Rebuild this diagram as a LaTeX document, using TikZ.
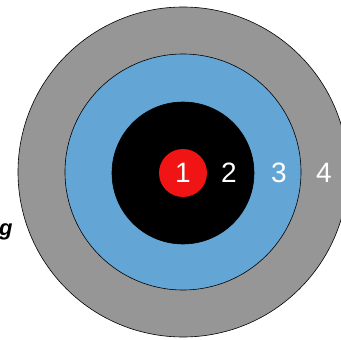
\documentclass[tikz,border=0pt]{standalone}
\usepackage{fontspec}
\setmainfont{Liberation Sans}
\usetikzlibrary{positioning}
\definecolor{ringgray}{RGB}{150,150,150}
\definecolor{ringblue}{RGB}{99,166,214}
\definecolor{ringred}{RGB}{240,20,20}

\begin{document}
\begin{tikzpicture}[
    x=1pt, y=-1pt,
    ring/.style  = {draw, circle, line width=0.6pt, inner sep=0pt},
    num/.style   = {text=white, font=\fontsize{28}{28}\selectfont, inner sep=0pt},
]
\useasboundingbox (0,0) rectangle (341,340);

% --- rings, outermost first ---
\node[ring, fill=ringgray, minimum size=330pt] (r4) at (183,172) {};
\node[ring, fill=ringblue, minimum size=236pt] (r3) at (183,172) {};
\node[ring, fill=black,    minimum size=142pt] (r2) at (183,173) {};
\node[ring, draw=none, fill=ringred, minimum size=48pt] (r1) at (183,173) {};

% --- ring numbers ---
\node[num] (n1) at (r1) {1};
\node[num] (n2) at (229,173) {2};
\node[num] (n3) at (279,173) {3};
\node[num] (n4) at (324,173) {4};

% --- clipped label on the left ---
\node[font=\fontsize{22}{22}\selectfont\bfseries\itshape, anchor=base west,
      inner sep=0pt] (lbl) at (-1,236) {g};

\end{tikzpicture}
\end{document}
